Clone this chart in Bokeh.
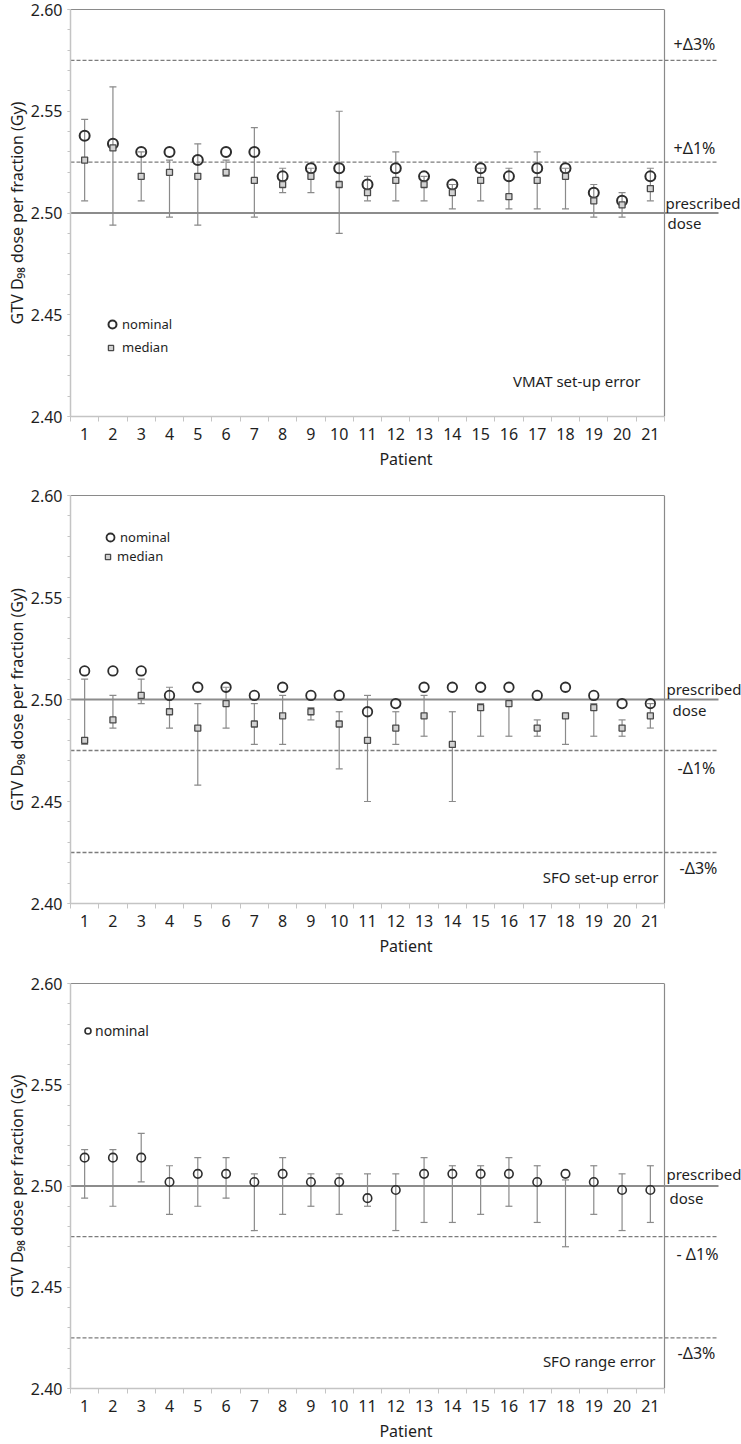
from bokeh.plotting import figure
from bokeh.models import (Range1d, FixedTicker, LinearAxis, Span, Label,
                          Whisker, TeeHead, ColumnDataSource, Legend, LegendItem,
                          PrintfTickFormatter)
from bokeh.layouts import column
from bokeh.embed import file_html
from bokeh.resources import INLINE

# ---------------- data ----------------
patients = list(range(1, 22))
patient_labels = [str(i) for i in patients]
y_tick_values = [2.40, 2.45, 2.50, 2.55, 2.60]
y_minor_values = [2.40, 2.41, 2.42, 2.43, 2.44, 2.45, 2.46, 2.47, 2.48, 2.49, 2.50,
                  2.51, 2.52, 2.53, 2.54, 2.55, 2.56, 2.57, 2.58, 2.59, 2.60]

prescribed_dose = 2.50
upper_limits = [2.575, 2.525]
upper_limit_labels = ["+Δ3%", "+Δ1%"]
lower_limits = [2.475, 2.425]
lower_limit_labels_2 = ["-Δ1%", "-Δ3%"]
lower_limit_labels_3 = ["- Δ1%", "-Δ3%"]

# Panel 1: VMAT set-up error
vmat_nominal = [2.538, 2.534, 2.530, 2.530, 2.526, 2.530, 2.530, 2.518, 2.522, 2.522, 2.514,
                2.522, 2.518, 2.514, 2.522, 2.518, 2.522, 2.522, 2.510, 2.506, 2.518]
vmat_median = [2.526, 2.532, 2.518, 2.520, 2.518, 2.520, 2.516, 2.514, 2.518, 2.514, 2.510,
               2.516, 2.514, 2.510, 2.516, 2.508, 2.516, 2.518, 2.506, 2.504, 2.512]
vmat_upper = [2.546, 2.562, 2.530, 2.526, 2.534, 2.526, 2.542, 2.522, 2.522, 2.550, 2.518,
              2.530, 2.518, 2.514, 2.522, 2.522, 2.530, 2.522, 2.514, 2.510, 2.522]
vmat_lower = [2.506, 2.494, 2.506, 2.498, 2.494, 2.518, 2.498, 2.510, 2.510, 2.490, 2.506,
              2.506, 2.506, 2.502, 2.506, 2.502, 2.502, 2.502, 2.498, 2.498, 2.506]

# Panel 2: SFO set-up error
sfo_setup_nominal = [2.514, 2.514, 2.514, 2.502, 2.506, 2.506, 2.502, 2.506, 2.502, 2.502, 2.494,
                     2.498, 2.506, 2.506, 2.506, 2.506, 2.502, 2.506, 2.502, 2.498, 2.498]
sfo_setup_median = [2.480, 2.490, 2.502, 2.494, 2.486, 2.498, 2.488, 2.492, 2.494, 2.488, 2.480,
                    2.486, 2.492, 2.478, 2.496, 2.498, 2.486, 2.492, 2.496, 2.486, 2.492]
sfo_setup_upper = [2.510, 2.502, 2.510, 2.506, 2.498, 2.506, 2.498, 2.502, 2.496, 2.494, 2.502,
                   2.494, 2.502, 2.494, 2.498, 2.500, 2.490, 2.493, 2.498, 2.490, 2.498]
sfo_setup_lower = [2.478, 2.486, 2.498, 2.486, 2.458, 2.486, 2.478, 2.478, 2.490, 2.466, 2.450,
                   2.478, 2.482, 2.450, 2.482, 2.482, 2.482, 2.478, 2.482, 2.482, 2.486]

# Panel 3: SFO range error
sfo_range_nominal = [2.514, 2.514, 2.514, 2.502, 2.506, 2.506, 2.502, 2.506, 2.502, 2.502, 2.494,
                     2.498, 2.506, 2.506, 2.506, 2.506, 2.502, 2.506, 2.502, 2.498, 2.498]
sfo_range_upper = [2.518, 2.518, 2.526, 2.510, 2.514, 2.514, 2.506, 2.514, 2.506, 2.506, 2.506,
                   2.506, 2.514, 2.510, 2.510, 2.514, 2.510, 2.503, 2.510, 2.506, 2.510]
sfo_range_lower = [2.494, 2.490, 2.502, 2.486, 2.490, 2.494, 2.478, 2.486, 2.490, 2.486, 2.490,
                   2.478, 2.482, 2.482, 2.486, 2.490, 2.482, 2.470, 2.486, 2.478, 2.482]

# ---------------- style / layout ----------------
FONT = "Noto Sans"
TXT = "#1e1e1e"
AXIS_LIGHT = "#c4c4c4"
FRAME = "#8a8a8a"
ERR = "#8a8a8a"
Y_LABEL = "GTV D\u2089\u2088 dose per fraction (Gy)"

FIG_W = 741
BORDER_L = 70
FRAME_W = FIG_W - BORDER_L           # frame runs to the right edge so side labels are not clipped
PX_PER_PATIENT = 594 / 21.0          # width of one patient slot in the reference
X_START = 0.5
X_END = X_START + FRAME_W / PX_PER_PATIENT
LAST_EDGE = 21.5
LINE_END = LAST_EDGE + 54 / PX_PER_PATIENT   # reference lines run a little past the right border


def make_panel(height, top, bottom, nominal, upper, lower, median,
               limits, limit_labels, limit_offsets, presc_offsets,
               panel_title, title_offsets, nom_size, nom_width, legend_specs):
    p = figure(width=FIG_W, height=height,
               x_range=Range1d(X_START, X_END), y_range=Range1d(2.40, 2.60),
               output_backend="svg", toolbar_location=None,
               min_border_left=BORDER_L, min_border_right=0,
               min_border_top=top, min_border_bottom=bottom,
               outline_line_color=None, background_fill_color="white",
               border_fill_color="white")
    p.grid.visible = False

    # y axis
    ya = p.yaxis[0]
    ya.ticker = FixedTicker(ticks=y_tick_values, minor_ticks=y_minor_values)
    ya.formatter = PrintfTickFormatter(format="%.2f")
    ya.axis_line_color = AXIS_LIGHT
    ya.axis_line_width = 1.5
    ya.major_tick_line_color = AXIS_LIGHT
    ya.minor_tick_line_color = AXIS_LIGHT
    ya.major_tick_out = 3
    ya.major_tick_in = 0
    ya.minor_tick_out = 3
    ya.minor_tick_in = 0
    ya.major_label_text_font = FONT
    ya.major_label_text_font_size = "16px"
    ya.major_label_text_color = TXT
    ya.major_label_standoff = 5
    ya.axis_label = Y_LABEL
    ya.axis_label_text_font = FONT
    ya.axis_label_text_font_size = "16px"
    ya.axis_label_text_font_style = "normal"
    ya.axis_label_text_color = TXT
    ya.axis_label_standoff = 0

    # x axis
    xa = p.xaxis[0]
    xa.ticker = FixedTicker(ticks=patients,
                            minor_ticks=[i - 0.5 for i in patients] + [LAST_EDGE])
    xa.bounds = (X_START, LAST_EDGE)
    xa.major_label_overrides = dict(zip(patients, patient_labels))
    xa.axis_line_color = AXIS_LIGHT
    xa.axis_line_width = 1.5
    xa.major_tick_line_color = None
    xa.minor_tick_line_color = AXIS_LIGHT
    xa.minor_tick_out = 5
    xa.minor_tick_in = 0
    xa.major_label_text_font = FONT
    xa.major_label_text_font_size = "16px"
    xa.major_label_text_color = TXT
    xa.major_label_standoff = 5
    xa.axis_label = "Patient"
    xa.axis_label_text_font = FONT
    xa.axis_label_text_font_size = "16px"
    xa.axis_label_text_font_style = "normal"
    xa.axis_label_text_color = TXT
    xa.axis_label_standoff = 5

    # top border (axis line only, limited to the data area)
    top_axis = LinearAxis(ticker=FixedTicker(ticks=[]), bounds=(X_START, LAST_EDGE),
                          axis_line_color=FRAME, axis_line_width=1.2,
                          major_tick_line_color=None, minor_tick_line_color=None,
                          major_label_text_font_size="0px")
    p.add_layout(top_axis, "above")
    # right border
    p.add_layout(Span(location=LAST_EDGE, dimension="height", line_color=FRAME, line_width=1.2))

    # reference lines (prescribed dose solid, tolerance lines dashed)
    p.segment(x0=[X_START], x1=[LINE_END], y0=[prescribed_dose], y1=[prescribed_dose],
              line_color="#8c8c8c", line_width=2, level="underlay")
    p.segment(x0=[X_START] * len(limits), x1=[LINE_END] * len(limits), y0=limits, y1=limits,
              line_color="#7c7c7c", line_width=1.3, line_dash="4 2", level="underlay")

    # right-side labels
    for lim, lab, (xo, yo) in zip(limits, limit_labels, limit_offsets):
        p.add_layout(Label(x=LAST_EDGE, y=lim, x_offset=xo, y_offset=yo, text=lab,
                           text_font=FONT, text_font_size="16px", text_color=TXT,
                           text_baseline="middle", text_align="left"))
    (pxo, pyo), (dxo, dyo) = presc_offsets
    p.add_layout(Label(x=LAST_EDGE, y=prescribed_dose, x_offset=pxo, y_offset=pyo,
                       text="prescribed", text_font=FONT, text_font_size="15px",
                       text_color=TXT, text_baseline="middle", text_align="left"))
    p.add_layout(Label(x=LAST_EDGE, y=prescribed_dose, x_offset=dxo, y_offset=dyo,
                       text="dose", text_font=FONT, text_font_size="15px",
                       text_color=TXT, text_baseline="middle", text_align="left"))

    # panel title inside frame
    p.add_layout(Label(x=LAST_EDGE, y=2.40, x_offset=title_offsets[0], y_offset=title_offsets[1],
                       text=panel_title, text_font=FONT, text_font_size="15px",
                       text_color=TXT, text_baseline="middle", text_align="right"))

    # data
    data = dict(x=patients, nominal=nominal, upper=upper, lower=lower)
    if median is not None:
        data["median"] = median
    src = ColumnDataSource(data)
    p.add_layout(Whisker(base="x", upper="upper", lower="lower", source=src,
                         line_color=ERR, line_width=1.2, level="underlay",
                         upper_head=TeeHead(size=7, line_color=ERR, line_width=1.2),
                         lower_head=TeeHead(size=7, line_color=ERR, line_width=1.2)))
    r_nom = p.scatter(x="x", y="nominal", source=src, marker="circle", size=nom_size,
                      fill_color=None, line_color="#2e2e2e", line_width=nom_width)
    renderers = {"nominal": r_nom}
    if median is not None:
        r_med = p.scatter(x="x", y="median", source=src, marker="square", size=6,
                          fill_color="#d2d2d2", line_color="#4a4a4a", line_width=1.3)
        renderers["median"] = r_med

    for name, gsize, loc, standoff, fsize in legend_specs:
        lg = Legend(items=[LegendItem(label=name, renderers=[renderers[name]])],
                    location=loc, glyph_width=gsize, glyph_height=gsize,
                    label_standoff=standoff, label_text_font=FONT,
                    label_text_font_size=fsize, label_text_color=TXT,
                    label_height=20, padding=0, margin=0, spacing=0,
                    border_line_color=None, background_fill_alpha=0)
        p.add_layout(lg)
    return p


p1 = make_panel(478, 9, 62, vmat_nominal, vmat_upper, vmat_lower, vmat_median,
                upper_limits, upper_limit_labels, [(9, 16), (9, 14)],
                ((1, 10), (3, -10)), "VMAT set-up error", (-24, 36), 10, 2.0,
                [("nominal", 20, (32, 82), 0, "13px"),
                 ("median", 13, (34, 59), 5, "13px")])

p2 = make_panel(488, 17, 63, sfo_setup_nominal, sfo_setup_upper, sfo_setup_lower,
                sfo_setup_median,
                lower_limits, lower_limit_labels_2, [(13, -17), (15, -15)],
                ((2, 11), (8, -10)), "SFO set-up error", (-6, 27), 9.5, 1.8,
                [("nominal", 20, (30, 356), -3, "13px"),
                 ("median", 13, (31, 337), 3, "13px")])

p3 = make_panel(478, 17, 54, sfo_range_nominal, sfo_range_upper, sfo_range_lower, None,
                lower_limits, lower_limit_labels_3, [(12, -17), (13, -15)],
                ((2, 12), (5, -12)), "SFO range error", (-9, 28), 8.5, 1.6,
                [("nominal", 15, (10, 348), -4, "14px")])

layout = column(p1, p2, p3, spacing=0)
open("out.html", "w").write(file_html(layout, INLINE, title="GTV D98 dose per fraction"))
